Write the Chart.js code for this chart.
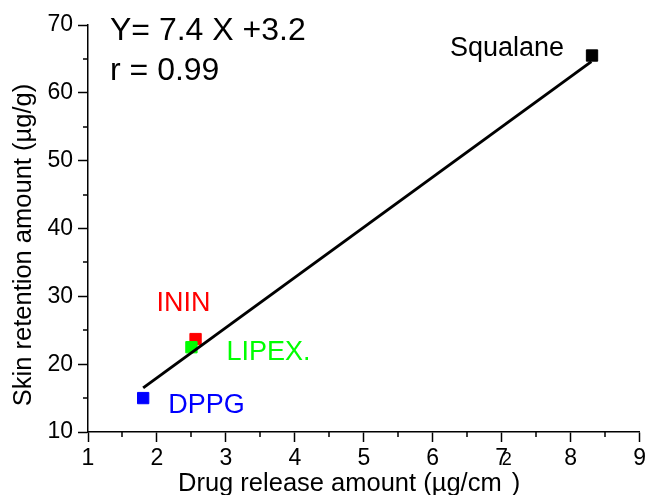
<!DOCTYPE html>
<html>
<head>
<meta charset="utf-8">
<script src="https://cdn.jsdelivr.net/npm/chart.js@4.4.1/dist/chart.umd.min.js"></script>
<style>
  html, body { margin: 0; padding: 0; background: #fff; }
</style>
</head>
<body>
<canvas id="c" width="649" height="495"></canvas>
<script>
// values
const samples = ['Squalane', 'LIPEX.', 'ININ', 'DPPG'];
const releaseX = [8.31, 2.50, 2.56, 1.80];    // µg/cm2
const retentionY = [65.5, 22.5, 23.7, 15.0];  // µg/g
const fitX = [1.8, 8.3];
const fitY = [16.5, 64.6];
const xTicks = [1, 2, 3, 4, 5, 6, 7, 8, 9];
const yTicks = [10, 20, 30, 40, 50, 60, 70];
const equation = 'Y= 7.4 X +3.2';
const corr = 'r = 0.99';

const FONT = "'Liberation Sans', Arial, sans-serif";
const colors = ['#000000', '#00ff00', '#ff0000', '#0000ff'];
const labelOffset = [[-142, 0], [35, 13], [-39, -28], [25, 15]]; // text pos vs marker, px

const datasets = [{
    type: 'line',
    label: 'fit',
    data: fitX.map((x, i) => ({ x: x, y: fitY[i] })),
    borderColor: '#000',
    borderWidth: 3,
    pointRadius: 0,
    showLine: true,
    fill: false,
    tension: 0
}];
samples.forEach((s, i) => datasets.push({
    label: s,
    data: [{ x: releaseX[i], y: retentionY[i] }],
    pointStyle: 'rect',
    pointRadius: 8,
    borderWidth: 1,
    backgroundColor: colors[i],
    borderColor: colors[i]
}));

// short outward minor ticks halfway between the major ones
const minorTicks = {
    id: 'minorTicks',
    afterDraw(chart) {
        const { ctx, chartArea: a, scales: { x, y } } = chart;
        ctx.save();
        ctx.strokeStyle = '#000';
        ctx.lineWidth = 1.5;
        ctx.beginPath();
        for (let i = 0; i < xTicks.length - 1; i++) {
            const px = Math.round(x.getPixelForValue((xTicks[i] + xTicks[i + 1]) / 2));
            ctx.moveTo(px, a.bottom);
            ctx.lineTo(px, a.bottom + 5);
        }
        for (let i = 0; i < yTicks.length - 1; i++) {
            const py = Math.round(y.getPixelForValue((yTicks[i] + yTicks[i + 1]) / 2));
            ctx.moveTo(a.left, py);
            ctx.lineTo(a.left - 5, py);
        }
        ctx.stroke();
        ctx.restore();
    }
};

// sample names, fit equation and both axis titles
const textLayer = {
    id: 'textLayer',
    afterDraw(chart) {
        const { ctx, chartArea: a, scales: { x, y } } = chart;
        ctx.save();
        ctx.textBaseline = 'alphabetic';
        ctx.textAlign = 'left';

        ctx.font = '27px ' + FONT;
        samples.forEach((s, i) => {
            ctx.fillStyle = colors[i];
            ctx.fillText(s,
                x.getPixelForValue(releaseX[i]) + labelOffset[i][0],
                y.getPixelForValue(retentionY[i]) + labelOffset[i][1]);
        });

        ctx.fillStyle = '#000';
        ctx.font = '32px ' + FONT;
        ctx.fillText(equation, a.left + 22, a.top + 15);
        ctx.fillText(corr, a.left + 22, a.top + 55);

        // x axis title, cm with superscript 2
        const main = 'Drug release amount (µg/cm';
        let x0 = a.left + 90;
        const base = 491;
        ctx.font = '25.5px ' + FONT;
        ctx.fillText(main, x0, base);
        x0 += ctx.measureText(main).width;
        ctx.font = '18px ' + FONT;
        ctx.fillText('2', x0, base - 26);
        x0 += ctx.measureText('2').width;
        ctx.font = '25.5px ' + FONT;
        ctx.fillText(')', x0, base);

        // y axis title
        ctx.translate(31, 245);
        ctx.rotate(-Math.PI / 2);
        ctx.textAlign = 'center';
        ctx.fillText('Skin retention amount (µg/g)', 0, 0);
        ctx.restore();
    }
};

new Chart(document.getElementById('c'), {
    type: 'scatter',
    data: { datasets: datasets },
    options: {
        responsive: false,
        animation: false,
        layout: { padding: { top: 25, right: 7, left: 0, bottom: 0 } },
        plugins: { legend: { display: false }, tooltip: { enabled: false } },
        scales: {
            x: {
                type: 'linear',
                min: 1, max: 9,
                afterBuildTicks: s => { s.ticks = xTicks.map(v => ({ value: v })); },
                afterFit: s => { s.height = 63; },
                grid: { drawOnChartArea: false, tickLength: 10, tickColor: '#000', tickWidth: 1.5 },
                border: { display: true, color: '#000', width: 1.5 },
                ticks: { color: '#000', font: { family: FONT, size: 23 }, padding: 3, maxRotation: 0, autoSkip: false }
            },
            y: {
                type: 'linear',
                min: 10, max: 70,
                afterBuildTicks: s => { s.ticks = yTicks.map(v => ({ value: v })); },
                afterFit: s => { s.width = 88; },
                grid: { drawOnChartArea: false, tickLength: 10, tickColor: '#000', tickWidth: 1.5 },
                border: { display: true, color: '#000', width: 1.5 },
                ticks: { color: '#000', font: { family: FONT, size: 23 }, padding: 5, autoSkip: false }
            }
        }
    },
    plugins: [minorTicks, textLayer]
});
</script>
</body>
</html>
